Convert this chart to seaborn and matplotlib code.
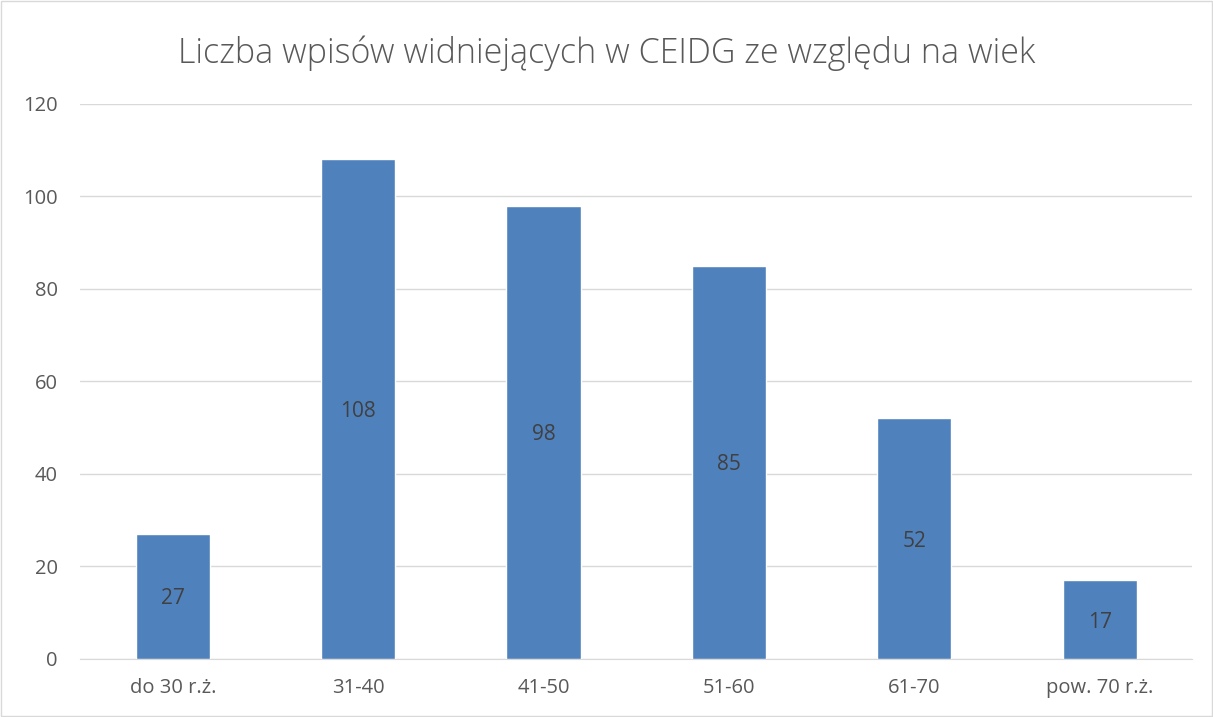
import matplotlib
matplotlib.use("Agg")
import matplotlib.pyplot as plt
import seaborn as sns
import pandas as pd

# ── Data ──────────────────────────────────────────────────────────────────────
categories = ["do 30 r.ż.", "31-40", "41-50", "51-60", "61-70", "pow. 70 r.ż."]
values = [27, 108, 98, 85, 52, 17]
y_ticks = [0, 20, 40, 60, 80, 100, 120]
title = "Liczba wpisów widniejących w CEIDG ze względu na wiek"

df = pd.DataFrame({"wiek": categories, "liczba": values})

# ── Style ─────────────────────────────────────────────────────────────────────
sns.set_style("white")
plt.rcParams["font.family"] = ["Open Sans", "DejaVu Sans"]

BAR = "#4F81BD"
TXT = "#595959"

fig = plt.figure(figsize=(12.13, 7.17), dpi=100)
ax = fig.add_axes([0.066, 0.081, 0.917, 0.774])

sns.barplot(data=df, x="wiek", y="liczba", color=BAR, width=0.4,
            saturation=1, ax=ax, zorder=3)

for i, v in enumerate(values):
    ax.text(i, v / 2, str(v), ha="center", va="center_baseline",
            fontsize=15, color="#404040", zorder=4)

ax.set_ylim(0, 120)
ax.set_yticks(y_ticks)
ax.set_xlim(-0.5, len(categories) - 0.5)
ax.grid(axis="y", color="#D9D9D9", linewidth=1, zorder=0)
ax.set_xlabel("")
ax.set_ylabel("")
for s in ["top", "right", "left"]:
    ax.spines[s].set_visible(False)
ax.spines["bottom"].set_color("#D9D9D9")
ax.tick_params(axis="both", length=0, labelsize=14.5, colors=TXT)
ax.tick_params(axis="x", pad=14)
ax.tick_params(axis="y", pad=16)

fig.text(0.5, 0.926, title, ha="center", va="center", fontsize=24.5,
         color=TXT, fontweight="light")

# thin frame around the whole chart
fig.patches.append(plt.Rectangle((0.001, 0.001), 0.998, 0.998,
                                 transform=fig.transFigure, fill=False,
                                 edgecolor="#D9D9D9", linewidth=1))

fig.savefig("out.png", dpi=100)
